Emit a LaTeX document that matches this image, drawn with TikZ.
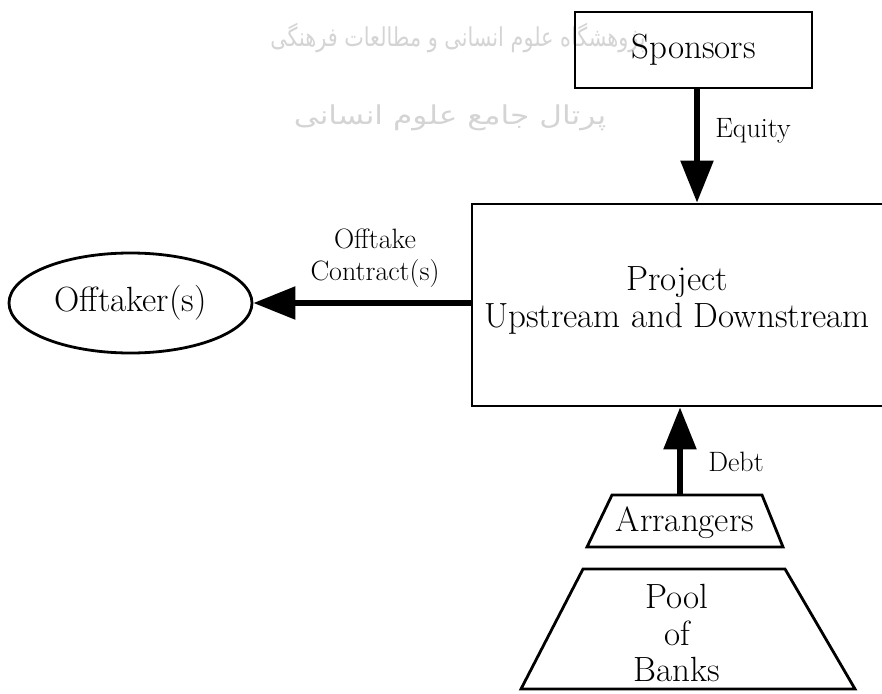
\documentclass[tikz,border=0pt]{standalone}
\usepackage{fontspec}
\usetikzlibrary{arrows.meta,shapes.geometric}
\TeXXeTstate=1
\newfontfamily\wmfont[Script=Arabic]{DejaVu Sans}
\begin{document}
\begin{tikzpicture}[x=1pt,y=-1pt,
  frame/.style={draw,line width=2.8pt,line join=miter},
  big/.style={inner sep=0pt,align=center,font=\fontsize{35}{37}\selectfont},
  small/.style={inner sep=0pt,align=center,font=\fontsize{28}{32}\selectfont},
  flow/.style={line width=5.5pt,-{Triangle[length=42pt,width=32pt]}},
  wmark/.style={inner sep=0pt,text=black!17,font=\wmfont\fontsize{26}{30}\selectfont}]
\useasboundingbox (0,0) rectangle (882,693);

% faint header marks behind the diagram
\node[wmark,xscale=0.8] (wmA) at (458,38) {\beginR پژوهشگاه علوم انسانی و مطالعات فرهنگی\endR};
\node[wmark,xscale=1.2] (wmB) at (450,118) {\beginR پرتال جامع علوم انسانی\endR};

% sponsors
\node[frame,rectangle,minimum width=237pt,minimum height=76pt,big]
  (spons) at (693.5,50) {Sponsors};

% project (its right side runs past the page edge)
\node[frame,rectangle,inner sep=0pt,minimum width=418pt,minimum height=202pt]
  (proj) at (681,305) {};
\node[big] (projtxt) at (677,300) {Project\\Upstream and Downstream};

% offtaker
\node[frame,ellipse,inner sep=0pt,minimum width=243pt,minimum height=100pt,big]
  (offt) at (130.5,303) {Offtaker(s)};

% lenders: arrangers on top of the bank pool
\draw[frame] (612,495) -- (762,495) -- (783,547) -- (587,547) -- cycle;
\node[big] (arr) at (685,523) {Arrangers};
\coordinate (arrtop) at (680,495);
\draw[frame] (583,569) -- (785,569) -- (855,689) -- (521,689) -- cycle;
\node[big,font=\fontsize{35}{36.5}\selectfont] (pool) at (677,633) {Pool\\of\\Banks};

% flows of funds and contracts
\coordinate (eqx) at (697,0);
\draw[flow] (eqx |- spons.south) -- (eqx |- proj.north);
\node[small] (eq) at (753,131) {Equity};
\draw[flow] (proj.west |- offt.east) -- (offt.east);
\node[small] (otk) at (375,258) {Offtake\\Contract(s)};
\draw[flow] (arrtop) -- (arrtop |- proj.south);
\node[small] (debt) at (736,462) {Debt};
\end{tikzpicture}
\end{document}
